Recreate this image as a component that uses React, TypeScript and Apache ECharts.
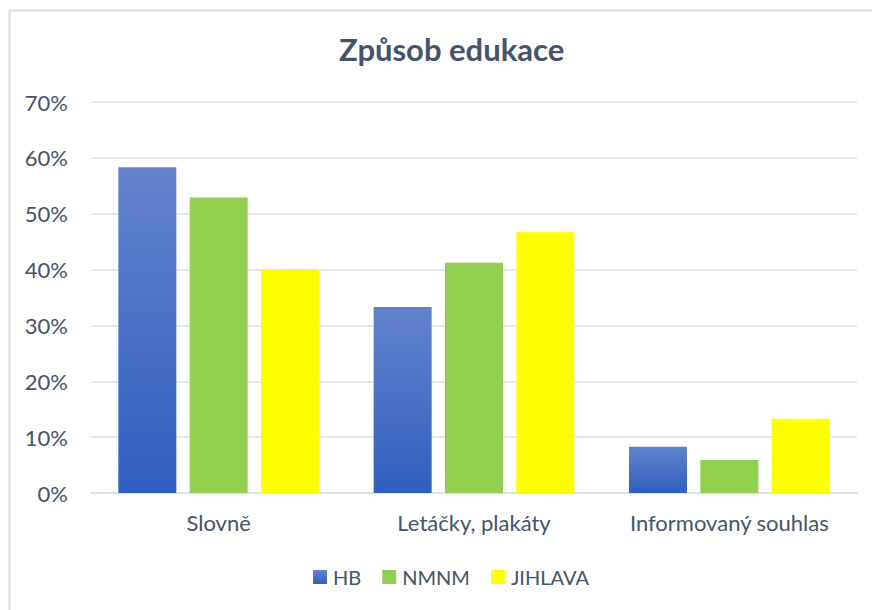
import React, { useEffect, useRef } from "react";
import * as echarts from "echarts";

const categories = ["Slovně", "Letáčky, plakáty", "Informovaný souhlas"];
const hb = [58.3, 33.3, 8.3];
const nmnm = [52.9, 41.2, 5.9];
const jihlava = [40.0, 46.7, 13.3];
const seriesNames = ["HB", "NMNM", "JIHLAVA"];

const FONT = "Lato, 'Open Sans', sans-serif";
const TXT = "#44546A";

export default function App() {
  const ref = useRef<HTMLDivElement>(null);
  useEffect(() => {
    if (!ref.current) return;
    const chart = echarts.init(ref.current, null, { renderer: "svg" });
    const hbGrad = new echarts.graphic.LinearGradient(0, 0, 0, 1, [
      { offset: 0, color: "#6383cd" },
      { offset: 1, color: "#2f5fbf" },
    ]);
    chart.setOption({
      animation: false,
      backgroundColor: "#ffffff",
      title: {
        text: "Způsob edukace",
        left: 334,
        top: 28,
        textStyle: { fontFamily: FONT, fontSize: 31, fontWeight: "bold", color: TXT },
      },
      graphic: [
        {
          type: "rect",
          shape: { x: 9.5, y: 10.5, width: 900, height: 700 },
          style: { fill: "none", stroke: "#d9dde5", lineWidth: 2 },
          silent: true,
        },
      ],
      legend: {
        top: 562,
        left: 308,
        itemWidth: 14,
        itemHeight: 14,
        itemGap: 21,
        icon: "rect",
        textStyle: { fontFamily: FONT, fontSize: 20, color: TXT, padding: [0, 0, 0, 1] },
        data: seriesNames,
      },
      grid: { left: 91, right: 15, top: 102, bottom: 117 },
      xAxis: {
        type: "category",
        data: categories,
        axisLine: { show: true, lineStyle: { color: "#d9dde5", width: 1.5 } },
        axisTick: { show: false },
        axisLabel: { fontFamily: FONT, fontSize: 22, color: TXT, margin: 18, interval: 0 },
      },
      yAxis: {
        type: "value",
        min: 0,
        max: 70,
        interval: 10,
        axisLine: { show: false },
        axisTick: { show: false },
        splitLine: { lineStyle: { color: "#dde1e8", width: 1.5 } },
        axisLabel: {
          fontFamily: FONT,
          fontSize: 22,
          color: TXT,
          margin: 23,
          formatter: (v: number) => v + "%",
        },
      },
      series: [
        { name: "HB", type: "bar", data: hb, barWidth: 58, barGap: "23%", itemStyle: { color: hbGrad } },
        { name: "NMNM", type: "bar", data: nmnm, barWidth: 58, barGap: "23%", itemStyle: { color: "#92D050" } },
        { name: "JIHLAVA", type: "bar", data: jihlava, barWidth: 58, barGap: "23%", itemStyle: { color: "#FFFF00" } },
      ],
    });
    return () => chart.dispose();
  }, []);
  return <div ref={ref} style={{ width: 872, height: 610, position: "absolute", left: 0, top: 0 }} />;
}
